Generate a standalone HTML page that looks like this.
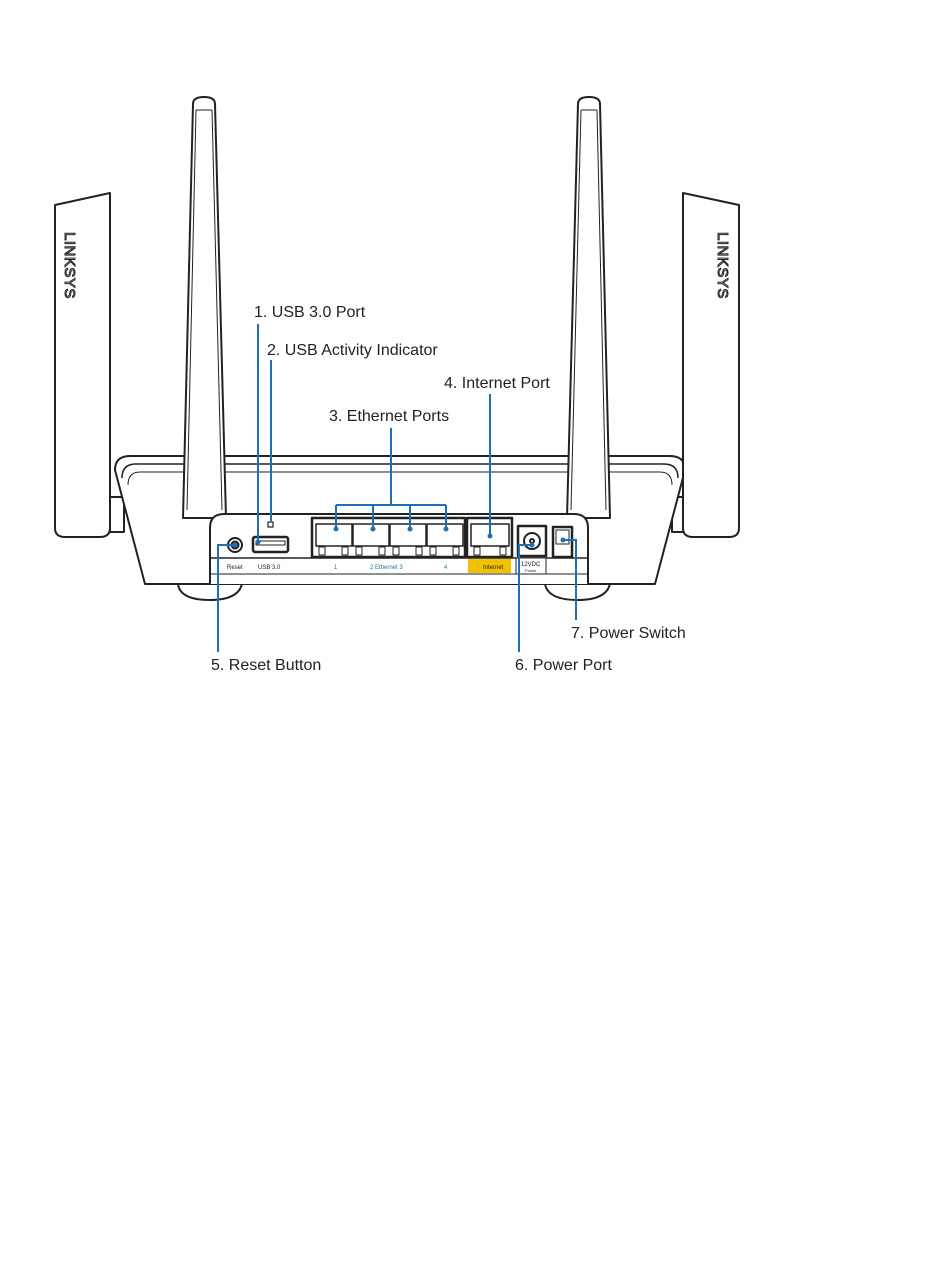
<!DOCTYPE html>
<html><head><meta charset="utf-8"><style>
html,body{margin:0;padding:0;background:#fff;}
svg{display:block;}
text{font-family:"Liberation Sans",sans-serif;}
</style></head><body>
<svg width="950" height="1276" viewBox="0 0 950 1276" xmlns="http://www.w3.org/2000/svg">
<g fill="#fff" stroke="#222" stroke-width="2" stroke-linejoin="round">
<!-- feet -->
<path d="M178 584 Q180 600 210 600 Q238 600 242 584 Z"/>
<path d="M545 584 Q548 600 578 600 Q606 600 610 584 Z"/>
<!-- side brackets -->
<rect x="110" y="497" width="14" height="35"/>
<rect x="672" y="497" width="14" height="35"/>
<!-- body -->
<path d="M115 470 Q115 456 130 456 L670 456 Q685 456 685 470 L655 584 L145 584 Z"/>
<path d="M122 478 Q122 464 136 464 L664 464 Q678 464 678 478" fill="none" stroke-width="1.5"/>
<path d="M128 485 Q128 472 140 472 L660 472 Q672 472 672 485" fill="none" stroke-width="1"/>
<!-- paddles -->
<path d="M55 205 L110 193 L110 528 Q110 537 100 537 L65 537 Q55 537 55 528 Z"/>
<path d="M683 193 L739 205 L739 528 Q739 537 729 537 L693 537 Q683 537 683 528 Z"/>
<!-- antennas -->
<path d="M193 104 Q193 97 204 97 Q215 97 215 104 L226 518 L183 518 Z"/>
<path d="M196 110 L212 110 M196 110 L187 510 M212 110 L222 510" fill="none" stroke-width="1"/>
<path d="M578 104 Q578 97 589 97 Q600 97 600 104 L610 518 L567 518 Z"/>
<path d="M581 110 L597 110 M581 110 L571 510 M597 110 L606 510" fill="none" stroke-width="1"/>
<!-- front panel -->
<path d="M210 584 L210 528 Q210 514 224 514 L574 514 Q588 514 588 528 L588 584"/>
<line x1="210" y1="558" x2="588" y2="558" stroke-width="1.5"/>
<line x1="210" y1="574" x2="588" y2="574" stroke-width="1"/>
<!-- reset -->
<circle cx="235" cy="545" r="7"/><circle cx="235" cy="545" r="3.5"/>
<!-- usb -->
<rect x="253" y="537" width="35" height="15" rx="2" stroke-width="2.5"/>
<rect x="256" y="541" width="29" height="4" stroke-width="1"/>
<rect x="268" y="522" width="5" height="5" stroke-width="1.2"/>
<!-- ethernet group -->
<rect x="312" y="518" width="153" height="39" stroke-width="2.5"/>
<rect x="467" y="518" width="45" height="39" stroke-width="2.5"/>
<g stroke-width="1.5">
<path d="M316 524 h36 v22 h-36 z"/>
<path d="M353 524 h36 v22 h-36 z"/>
<path d="M390 524 h36 v22 h-36 z"/>
<path d="M427 524 h36 v22 h-36 z"/>
<path d="M471 524 h38 v22 h-38 z"/>
</g>
<g stroke-width="1">
<rect x="319" y="547" width="6" height="8"/><rect x="342" y="547" width="6" height="8"/>
<rect x="356" y="547" width="6" height="8"/><rect x="379" y="547" width="6" height="8"/>
<rect x="393" y="547" width="6" height="8"/><rect x="416" y="547" width="6" height="8"/>
<rect x="430" y="547" width="6" height="8"/><rect x="453" y="547" width="6" height="8"/>
<rect x="474" y="547" width="6" height="8"/><rect x="500" y="547" width="6" height="8"/>
</g>
<!-- power port -->
<rect x="518" y="526" width="28" height="30" stroke-width="2.5"/>
<circle cx="532" cy="541" r="8"/><circle cx="532" cy="541" r="2"/>
<rect x="516" y="558" width="30" height="16" stroke-width="1"/>
<!-- switch -->
<rect x="553" y="527" width="19" height="30" stroke-width="2.5"/>
<rect x="556" y="530" width="13" height="14" stroke-width="1"/>
</g>
<rect x="468" y="559" width="43" height="14" fill="#f2c200"/>
<g font-size="6" fill="#222">
<text x="227" y="569">Reset</text>
<text x="258" y="569">USB 3.0</text>
<text x="483" y="569">Internet</text>
<text x="521" y="566">12VDC</text>
<text x="525" y="572" font-size="4">Power</text>
</g>
<g font-size="6" fill="#1f6fb5">
<text x="334" y="569">1</text>
<text x="370" y="569">2 Ethernet 3</text>
<text x="444" y="569">4</text>
</g>
<!-- LINKSYS text -->
<text transform="translate(65,232) rotate(90)" font-size="15" fill="#fff" stroke="#222" stroke-width="1" letter-spacing="0.5">LINKSYS</text>
<text transform="translate(718,232) rotate(90)" font-size="15" fill="#fff" stroke="#222" stroke-width="1" letter-spacing="0.5">LINKSYS</text>
<!-- callouts -->
<g stroke="#1f6fb5" stroke-width="2" fill="none">
<path d="M258 324 L258 542"/>
<path d="M271 360 L271 521"/>
<path d="M391 428 L391 505 M336 505 L446 505 M336 505 V529 M373 505 V529 M410 505 V529 M446 505 V529"/>
<path d="M490 394 L490 536"/>
<path d="M218 652 L218 545 L235 545"/>
<path d="M519 652 L519 545 L532 545"/>
<path d="M576 620 L576 540 L563 540"/>
</g>
<g fill="#1f6fb5">
<circle cx="258" cy="542" r="2.5"/><circle cx="336" cy="529" r="2.5"/><circle cx="373" cy="529" r="2.5"/>
<circle cx="410" cy="529" r="2.5"/><circle cx="446" cy="529" r="2.5"/><circle cx="490" cy="536" r="2.5"/>
<circle cx="235" cy="545" r="2.5"/><circle cx="532" cy="545" r="2.5"/><circle cx="563" cy="540" r="2.5"/>
</g>
<g font-size="16" fill="#222">
<text x="254" y="317">1. USB 3.0 Port</text>
<text x="267" y="355">2. USB Activity Indicator</text>
<text x="444" y="388">4. Internet Port</text>
<text x="329" y="421">3. Ethernet Ports</text>
<text x="571" y="638">7. Power Switch</text>
<text x="211" y="670">5. Reset Button</text>
<text x="515" y="670">6. Power Port</text>
</g>
</svg>
</body></html>
